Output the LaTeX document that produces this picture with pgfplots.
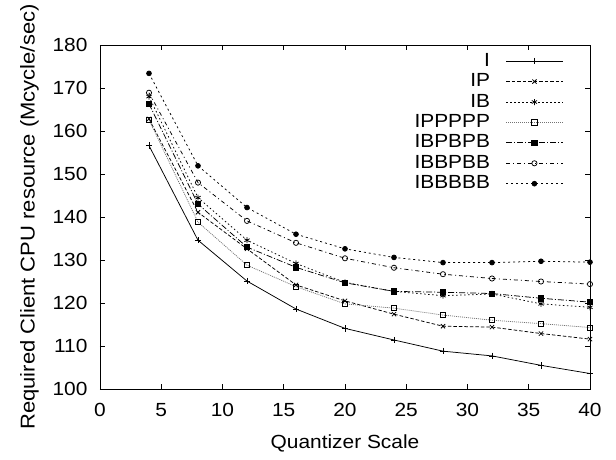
\documentclass[border=0pt]{standalone}
\usepackage{pgfplots}
\pgfplotsset{compat=1.18}
\usepackage{fontspec}
\setmainfont{Liberation Sans}[FakeStretch=1.1]
\begin{document}
\fontsize{19}{23}\selectfont
\begin{tikzpicture}
\begin{axis}[
  scale only axis,
  width=490pt, height=344pt,
  xmin=0, xmax=40, ymin=100, ymax=180,
  xtick={0,5,...,40}, ytick={100,110,...,180},
  tick align=inside,
  major tick length=5pt,
  axis line style={line width=0.9pt},
  tick style={line width=0.7pt, black},
  /pgf/number format/assume math mode=true,
  xticklabel style={yshift=-8pt},
  yticklabel style={xshift=-6pt},
  xlabel={Quantizer Scale},
  ylabel={Required Client CPU resource (Mcycle/sec)},
  xlabel style={yshift=-5pt},
  ylabel style={yshift=1pt, font=\fontsize{20}{24}\selectfont},
  every axis plot/.append style={line width=0.75pt, black},
  legend cell align=right,
  legend plot pos=right,
  legend style={draw=none, fill=none, at={(rel axis cs:1,1)}, anchor=north east,
    xshift=-26pt, yshift=-6pt, row sep=0.5pt, column sep=14pt, inner sep=0pt,
    font=\fontsize{19}{20}\selectfont},
  legend image code/.code={\draw[mark repeat=2,mark phase=2,#1] plot coordinates {(0pt,0pt)(28pt,0pt)(57pt,0pt)};},
]
\coordinate (sw) at (rel axis cs:0,0);
\addplot[solid, mark=+, mark size=3.2pt, mark options={solid}] coordinates {(4,156.6)(8,134.6)(12,125.1)(16,118.6)(20,114.1)(24,111.4)(28,108.8)(32,107.7)(36,105.5)(40,103.6)};
\addlegendentry{I}
\addplot[dash pattern=on 3.5pt off 2pt, mark=x, mark size=3pt, mark options={solid}] coordinates {(4,162.8)(8,141.1)(12,132.6)(16,124.2)(20,120.5)(24,117.4)(28,114.6)(32,114.4)(36,112.9)(40,111.6)};
\addlegendentry{IP}
\addplot[dash pattern=on 1.5pt off 2.5pt, mark=asterisk, mark size=3pt, mark options={solid}] coordinates {(4,168.0)(8,144.5)(12,134.6)(16,129.2)(20,124.8)(24,122.7)(28,121.7)(32,122.1)(36,119.8)(40,119.0)};
\addlegendentry{IB}
\addplot[dash pattern=on 1pt off 1pt, color=black!55, mark=square, mark size=2.6pt, mark options={solid, black}] coordinates {(4,162.6)(8,138.8)(12,128.8)(16,123.8)(20,119.8)(24,118.8)(28,117.2)(32,116.0)(36,115.2)(40,114.3)};
\addlegendentry{IPPPPP}
\addplot[dash pattern=on 6pt off 2pt on 1pt off 2pt, mark=square*, mark size=2.6pt, mark options={solid}] coordinates {(4,166.3)(8,143.0)(12,133.0)(16,128.3)(20,124.7)(24,122.7)(28,122.5)(32,122.2)(36,121.1)(40,120.2)};
\addlegendentry{IBPBPB}
\addplot[dash pattern=on 4pt off 3pt on 1pt off 3pt, mark=o, mark size=2.6pt, mark options={solid}] coordinates {(4,168.9)(8,148.0)(12,139.1)(16,134.0)(20,130.4)(24,128.2)(28,126.7)(32,125.7)(36,125.0)(40,124.4)};
\addlegendentry{IBBPBB}
\addplot[dash pattern=on 2pt off 3pt, mark=*, mark size=2.4pt, mark options={solid}] coordinates {(4,173.4)(8,151.9)(12,142.2)(16,136.0)(20,132.6)(24,130.6)(28,129.4)(32,129.4)(36,129.7)(40,129.5)};
\addlegendentry{IBBBBB}
\end{axis}
\pgfresetboundingbox
\path (sw) ++(-100pt,-70pt) rectangle ++(616pt,459pt);
\end{tikzpicture}
\end{document}
